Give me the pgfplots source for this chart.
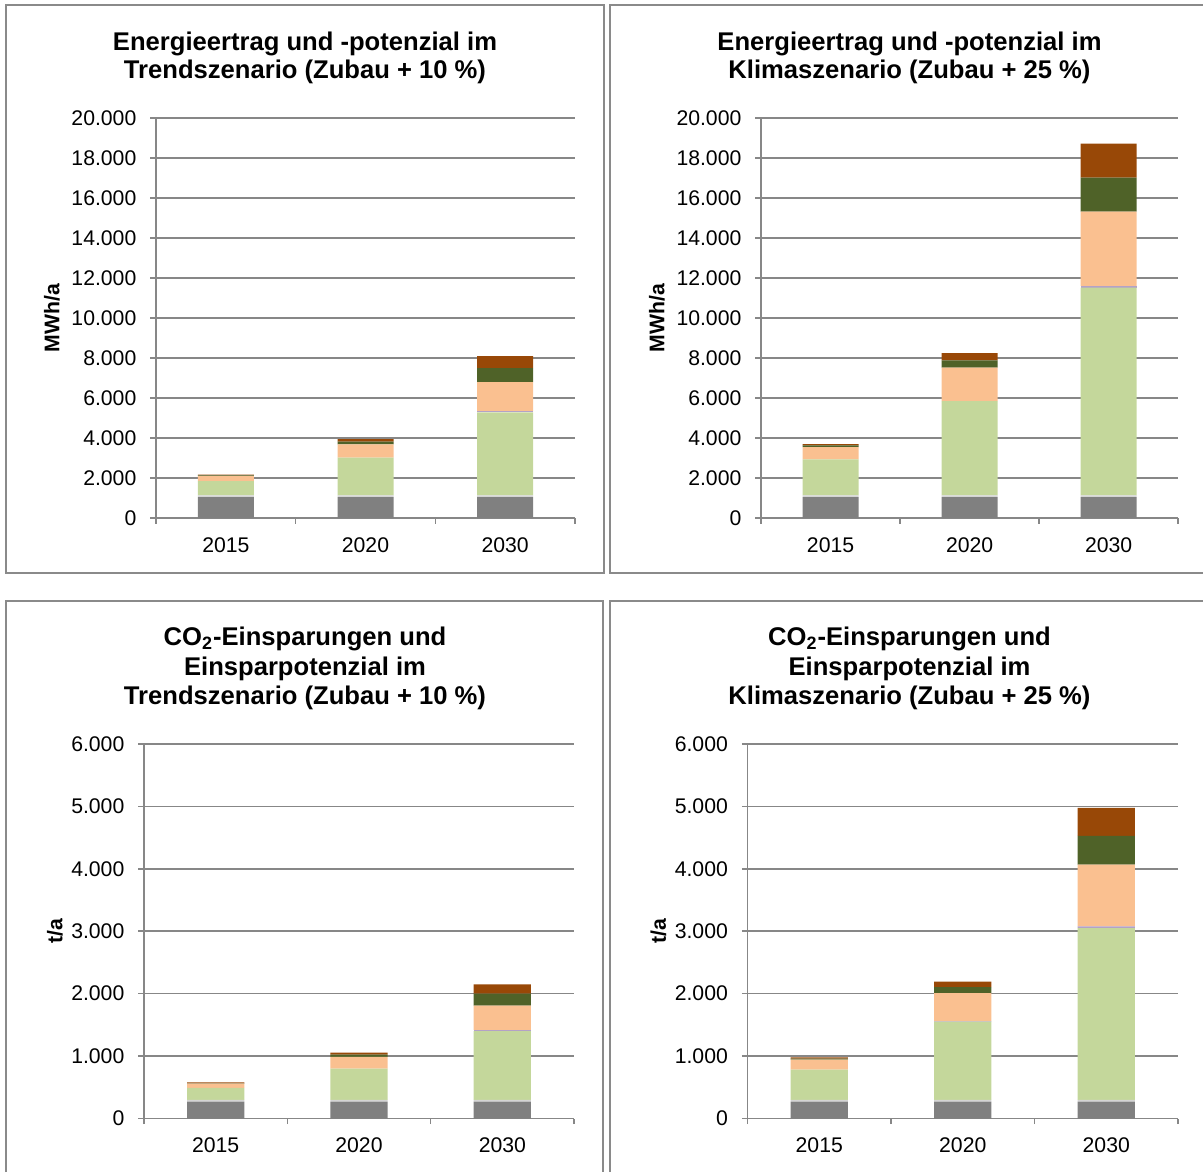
\documentclass[border=0pt]{standalone}
\usepackage{pgfplots}
\pgfplotsset{compat=1.18}
\usepackage{fontspec}
\setmainfont{Liberation Sans}
\definecolor{cgray}{HTML}{808080}
\definecolor{clgray}{HTML}{D4D4D4}
\definecolor{cgreen}{HTML}{C4D79B}
\definecolor{cpurple}{HTML}{B3A2C7}
\definecolor{cpeach}{HTML}{FAC090}
\definecolor{cdkgreen}{HTML}{4F6228}
\definecolor{cbrown}{HTML}{984807}
\definecolor{gridgray}{HTML}{878787}
\definecolor{bordergray}{HTML}{8A8A8A}
\pgfplotsset{
  mybar/.style={
    ybar stacked, bar width=28pt,
    scale only axis, anchor=south west,
    xmin=-0.5, xmax=2.5, ymin=0,
    axis x line*=bottom, axis y line*=left,
    axis line style={draw=gridgray, line width=0.8pt},
    ymajorgrids, grid style={draw=gridgray, line width=0.8pt},
    xtick={-0.5,0.5,1.5,2.5}, xticklabels={2015,2020,2030},
    x tick label as interval,
    tick align=outside, major tick length=2.8pt,
    every tick/.style={draw=gridgray, line width=0.8pt},
    ticklabel style={font=\fontsize{10.6}{12}\selectfont},
    yticklabel style={xshift=-3.5pt},
    xticklabel style={yshift=-3.5pt},
    scaled y ticks=false,
    /pgf/number format/1000 sep={.},
    /pgf/number format/assume math mode=true,
    every axis y label/.style={at={(rel axis cs:0,0.5)}, anchor=center, rotate=90,
      font=\fontsize{10.6}{12}\selectfont\bfseries},
    every axis plot/.append style={draw=none},
  },
}
\begin{document}
\begin{tikzpicture}
\useasboundingbox (0,0) rectangle (601.5pt,-586pt);
% panel borders
\draw[bordergray, line width=0.9pt] (3pt,-2.5pt) rectangle (302pt,-286.5pt);
\draw[bordergray, line width=0.9pt] (601.5pt,-2.5pt) -- (305pt,-2.5pt) -- (305pt,-286.5pt) -- (601.5pt,-286.5pt);
\draw[bordergray, line width=0.9pt] (3pt,-586pt) -- (3pt,-300.5pt) -- (301.5pt,-300.5pt) -- (301.5pt,-586pt);
\draw[bordergray, line width=0.9pt] (305pt,-586pt) -- (305pt,-300.5pt) -- (601.5pt,-300.5pt);
% titles
\tikzset{ttl/.style={align=center, font=\fontsize{12.8}{14.2}\selectfont\bfseries},
  ttlb/.style={align=center, font=\fontsize{12.8}{14.7}\selectfont\bfseries}}
\node[ttl] at (152.5pt,-29pt) {Energieertrag und -potenzial im\\Trendszenario (Zubau + 10 \%)};
\node[ttl] at (454.75pt,-29pt) {Energieertrag und -potenzial im\\Klimaszenario (Zubau + 25 \%)};
\node[ttlb] at (152.5pt,-334.25pt) {CO\textsubscript{2}-Einsparungen und\\Einsparpotenzial im\\Trendszenario (Zubau + 10 \%)};
\node[ttlb] at (454.75pt,-334.25pt) {CO\textsubscript{2}-Einsparungen und\\Einsparpotenzial im\\Klimaszenario (Zubau + 25 \%)};

% Chart 1
\begin{axis}[mybar, at={(78pt,-259pt)}, width=209.5pt, height=200pt,
  ymax=20000, ytick distance=2000, ylabel={MWh/a},
  ylabel style={yshift=52pt}]
\addplot[fill=cgray] coordinates {(0,1050) (1,1050) (2,1050)};
\addplot[fill=clgray] coordinates {(0,80) (1,80) (2,80)};
\addplot[fill=cgreen] coordinates {(0,720) (1,1890) (2,4155)};
\addplot[fill=cpurple] coordinates {(0,0) (1,0) (2,50)};
\addplot[fill=cpeach] coordinates {(0,250) (1,665) (2,1465)};
\addplot[fill=cdkgreen] coordinates {(0,30) (1,135) (2,700)};
\addplot[fill=cbrown] coordinates {(0,40) (1,130) (2,600)};
\end{axis}

% Chart 2
\begin{axis}[mybar, at={(380.5pt,-259pt)}, width=208.6pt, height=200pt,
  ymax=20000, ytick distance=2000, ylabel={MWh/a},
  ylabel style={yshift=52pt}]
\addplot[fill=cgray] coordinates {(0,1050) (1,1050) (2,1050)};
\addplot[fill=clgray] coordinates {(0,80) (1,80) (2,80)};
\addplot[fill=cgreen] coordinates {(0,1805) (1,4720) (2,10390)};
\addplot[fill=cpurple] coordinates {(0,0) (1,0) (2,80)};
\addplot[fill=cpeach] coordinates {(0,615) (1,1670) (2,3720)};
\addplot[fill=cdkgreen] coordinates {(0,85) (1,365) (2,1700)};
\addplot[fill=cbrown] coordinates {(0,65) (1,365) (2,1700)};
\end{axis}

% Chart 3
\begin{axis}[mybar, at={(72pt,-559.25pt)}, width=215pt, height=187.25pt,
  bar width=28.6pt,
  ymax=6000, ytick distance=1000, ylabel={t/a},
  ylabel style={yshift=44.5pt}]
\addplot[fill=cgray] coordinates {(0,270) (1,270) (2,270)};
\addplot[fill=clgray] coordinates {(0,30) (1,30) (2,30)};
\addplot[fill=cgreen] coordinates {(0,190) (1,500) (2,1102)};
\addplot[fill=cpurple] coordinates {(0,0) (1,0) (2,16)};
\addplot[fill=cpeach] coordinates {(0,70) (1,186) (2,390)};
\addplot[fill=cdkgreen] coordinates {(0,5) (1,38) (2,192)};
\addplot[fill=cbrown] coordinates {(0,15) (1,32) (2,149)};
\end{axis}

% Chart 4
\begin{axis}[mybar, at={(373.75pt,-559.25pt)}, width=215.25pt, height=187.25pt,
  bar width=28.6pt,
  ymax=6000, ytick distance=1000, ylabel={t/a},
  ylabel style={yshift=44.5pt}]
\addplot[fill=cgray] coordinates {(0,270) (1,270) (2,270)};
\addplot[fill=clgray] coordinates {(0,30) (1,30) (2,30)};
\addplot[fill=cgreen] coordinates {(0,484) (1,1252) (2,2750)};
\addplot[fill=cpurple] coordinates {(0,0) (1,8) (2,27)};
\addplot[fill=cpeach] coordinates {(0,160) (1,448) (2,992)};
\addplot[fill=cdkgreen] coordinates {(0,16) (1,96) (2,459)};
\addplot[fill=cbrown] coordinates {(0,21) (1,90) (2,448)};
\end{axis}
\end{tikzpicture}
\end{document}
